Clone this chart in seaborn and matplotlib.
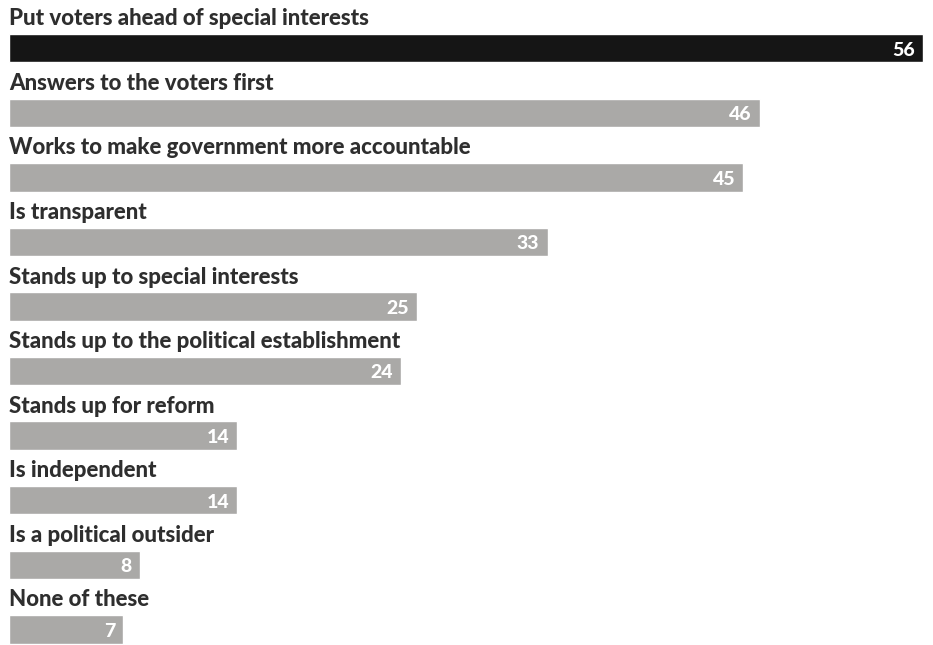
import matplotlib
matplotlib.use("Agg")
import matplotlib.pyplot as plt
import seaborn as sns
import pandas as pd

categories = [
    "Put voters ahead of special interests",
    "Answers to the voters first",
    "Works to make government more accountable",
    "Is transparent",
    "Stands up to special interests",
    "Stands up to the political establishment",
    "Stands up for reform",
    "Is independent",
    "Is a political outsider",
    "None of these",
]
values = [56, 46, 45, 33, 25, 24, 14, 14, 8, 7]
highlight = "#151515"
base = "#aaa9a7"
colors = [highlight] + [base] * (len(categories) - 1)

sns.set_theme(style="white")
plt.rcParams["font.family"] = ["Lato", "DejaVu Sans"]

df = pd.DataFrame({"item": categories, "pct": values})

fig = plt.figure(figsize=(9.33, 6.45), dpi=100)
ax = fig.add_axes([0, 0, 1, 1])

bar_h = 0.441
sns.barplot(data=df, x="pct", y="item", hue="item", palette=colors,
            width=bar_h, legend=False, ax=ax, saturation=1, orient="h")

ax.set_xlim(-0.551, 56.62)
ax.set_ylim(9.243, -0.747)
ax.set_axis_off()

for i, (cat, val) in enumerate(zip(categories, values)):
    top = i - bar_h / 2
    ax.text(0, top - 0.135, cat, ha="left", va="baseline",
            fontsize=16, fontweight="black", color="#2e2e2e")
    ax.text(val - 0.5, i + 0.03, str(val), ha="right", va="center",
            fontsize=14, fontweight="black", color="white")

fig.savefig("out.png", dpi=100)
